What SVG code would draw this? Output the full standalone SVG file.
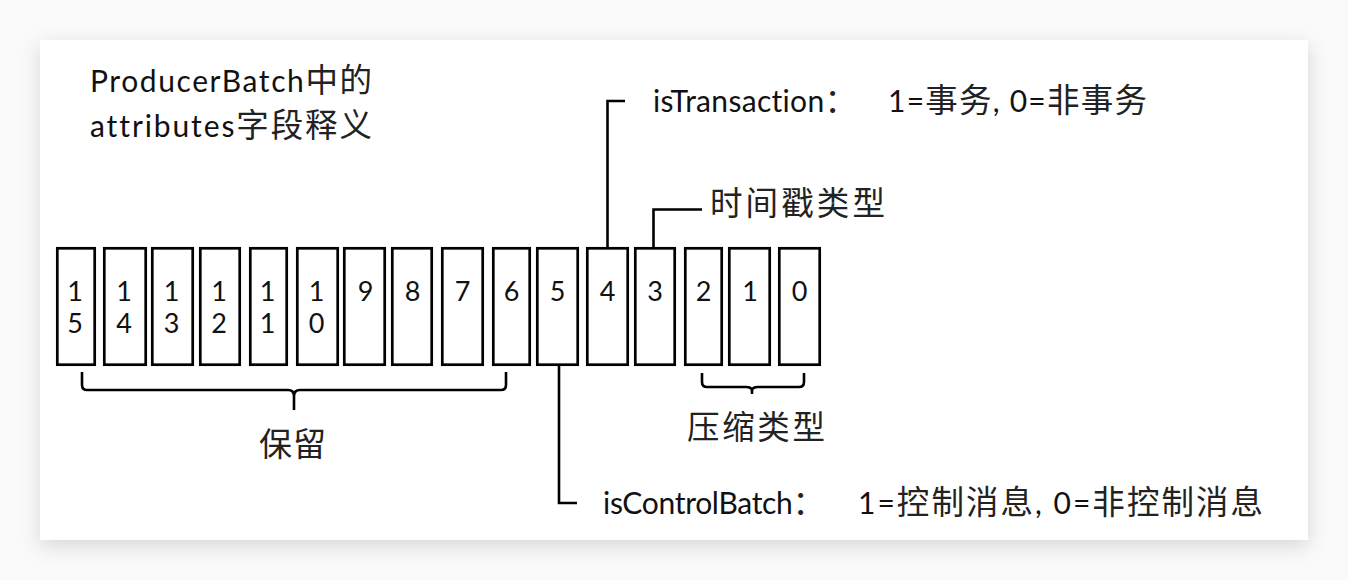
<svg xmlns="http://www.w3.org/2000/svg" width="1348" height="580" viewBox="0 0 1348 580">
  <defs>
    <filter id="shadow" x="-10%" y="-10%" width="120%" height="130%">
      <feDropShadow dx="0" dy="6" stdDeviation="10" flood-color="#000" flood-opacity="0.14"/>
    </filter>
    <style>
      text { font-variant-ligatures: none; font-feature-settings: "liga" 0, "clig" 0, "dlig" 0; }
      .bit { fill: #fff; stroke: #000; stroke-width: 2.7; }
      .num { font-family: Lato, "Liberation Sans", sans-serif; font-size: 27px; fill: #111; text-anchor: middle; }
      .lat { font-family: Lato, "Liberation Sans", "Noto Sans CJK SC", sans-serif; font-size: 30px; fill: #111; }
      .cjk { font-family: "Noto Sans CJK SC", sans-serif; font-size: 32.5px; fill: #222; }
      .conn { fill: none; stroke: #000; stroke-width: 2.6; }
    </style>
  </defs>
  <rect x="0" y="0" width="1348" height="580" fill="#fafafa"/>
  <rect x="40" y="40" width="1268" height="500" fill="#fff" filter="url(#shadow)"/>

  <g id="title">
    <text class="lat" x="90" y="92" textLength="282">ProducerBatch<tspan class="cjk">中的</tspan></text>
    <text class="lat" x="90" y="137" textLength="282">attributes<tspan class="cjk">字段释义</tspan></text>
  </g>

  <g id="bit15"><rect class="bit" x="57.3" y="248.3" width="37.4" height="116.4"/><text class="num" x="75" y="301">1</text><text class="num" x="75" y="333">5</text></g>
  <g id="bit14"><rect class="bit" x="104.3" y="248.3" width="41.4" height="116.4"/><text class="num" x="124" y="301">1</text><text class="num" x="124" y="333">4</text></g>
  <g id="bit13"><rect class="bit" x="152.3" y="248.3" width="40.4" height="116.4"/><text class="num" x="171.5" y="301">1</text><text class="num" x="171.5" y="333">3</text></g>
  <g id="bit12"><rect class="bit" x="200.3" y="248.3" width="39.4" height="116.4"/><text class="num" x="219" y="301">1</text><text class="num" x="219" y="333">2</text></g>
  <g id="bit11"><rect class="bit" x="250.3" y="248.3" width="36.4" height="116.4"/><text class="num" x="267.5" y="301">1</text><text class="num" x="267.5" y="333">1</text></g>
  <g id="bit10"><rect class="bit" x="297.3" y="248.3" width="40.4" height="116.4"/><text class="num" x="316.5" y="301">1</text><text class="num" x="316.5" y="333">0</text></g>
  <g id="bit9"><rect class="bit" x="344.3" y="248.3" width="40.4" height="116.4"/><text class="num" x="365.5" y="301">9</text></g>
  <g id="bit8"><rect class="bit" x="392.3" y="248.3" width="39.4" height="116.4"/><text class="num" x="412.5" y="301">8</text></g>
  <g id="bit7"><rect class="bit" x="442.3" y="248.3" width="40.4" height="116.4"/><text class="num" x="462.5" y="301">7</text></g>
  <g id="bit6"><rect class="bit" x="493.3" y="248.3" width="36.4" height="116.4"/><text class="num" x="511.5" y="301">6</text></g>
  <g id="bit5"><rect class="bit" x="537.3" y="248.3" width="40.4" height="116.4"/><text class="num" x="557.5" y="301">5</text></g>
  <g id="bit4"><rect class="bit" x="587.3" y="248.3" width="40.4" height="116.4"/><text class="num" x="607.5" y="301">4</text></g>
  <g id="bit3"><rect class="bit" x="635.3" y="248.3" width="39.4" height="116.4"/><text class="num" x="655" y="301">3</text></g>
  <g id="bit2"><rect class="bit" x="685.3" y="248.3" width="36.4" height="116.4"/><text class="num" x="703.5" y="301">2</text></g>
  <g id="bit1"><rect class="bit" x="729.3" y="248.3" width="40.4" height="116.4"/><text class="num" x="750" y="301">1</text></g>
  <g id="bit0"><rect class="bit" x="779.3" y="248.3" width="40.4" height="116.4"/><text class="num" x="799.5" y="301">0</text></g>

  <g id="connectors">
    <path class="conn" d="M607.5,247 V101 H625"/>
    <path class="conn" d="M653.5,247 V209.5 H702"/>
    <path class="conn" d="M559,366 V503 H577"/>
    <path class="conn" d="M82,372 V385 Q82,390 87,390 H288 Q294,390 294,396 V410 M294,396 Q294,390 300,390 H501 Q506,390 506,385 V372"/>
    <path class="conn" d="M702,373 V382 Q702,387 707,387 H746 Q752,387 752,391 V394 M752,391 Q752,387 758,387 H799 Q804,387 804,382 V373"/>
  </g>

  <g id="label-transaction">
    <text class="lat" x="653" y="112" textLength="204">isTransaction<tspan class="cjk">：</tspan></text>
    <text class="lat" x="888" y="112" textLength="259">1=<tspan class="cjk">事务</tspan>, 0=<tspan class="cjk">非事务</tspan></text>
  </g>
  <g id="label-timestamp">
    <text class="cjk" x="710" y="215" textLength="175">时间戳类型</text>
  </g>
  <g id="label-compression">
    <text class="cjk" x="687" y="439" textLength="138">压缩类型</text>
  </g>
  <g id="label-reserved">
    <text class="cjk" x="259" y="456" textLength="67" style="font-size:33px">保留</text>
  </g>
  <g id="label-control">
    <text class="lat" x="603" y="514" textLength="222">isControlBatch<tspan class="cjk">：</tspan></text>
    <text class="lat" x="858" y="514" textLength="405">1=<tspan class="cjk">控制消息</tspan>, 0=<tspan class="cjk">非控制消息</tspan></text>
  </g>
</svg>
